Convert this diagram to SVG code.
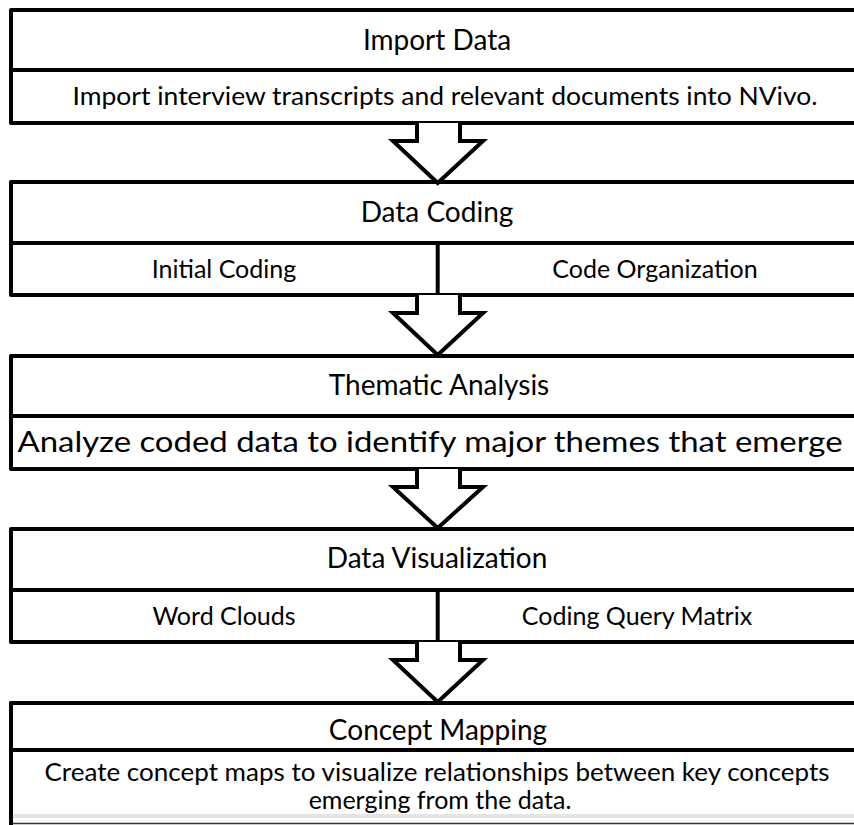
<svg xmlns="http://www.w3.org/2000/svg" width="854" height="825" viewBox="0 0 854 825">
<style>
.box{fill:#fff;stroke:#000;stroke-width:4;stroke-linejoin:round}
.ln{stroke:#000;stroke-width:4;fill:none;stroke-linecap:round}
.ar{fill:#fff;stroke:#000;stroke-width:4;stroke-linejoin:miter}
text{font-family:Lato,"Open Sans",sans-serif;fill:#000;text-anchor:middle}
.t{font-size:28px}
.d{font-size:25px}
</style>
<rect width="854" height="825" fill="#fff"/>
<g id="import-data">
<rect class="box" x="11" y="10" width="880" height="113"/>
<line class="ln" x1="11" y1="70" x2="891" y2="70"/>
<text class="t" x="437" y="50">Import Data</text>
<text class="d" x="445" y="105" textLength="745" lengthAdjust="spacingAndGlyphs">Import interview transcripts and relevant documents into NVivo.</text>
</g>
<g id="data-coding">
<rect class="box" x="11" y="182" width="880" height="113"/>
<line class="ln" x1="11" y1="243" x2="891" y2="243"/>
<line class="ln" x1="437.7" y1="243" x2="437.7" y2="295"/>
<text class="t" x="437" y="222">Data Coding</text>
<text class="d" x="224" y="278">Initial Coding</text>
<text class="d" x="655" y="278">Code Organization</text>
</g>
<g id="thematic-analysis">
<rect class="box" x="11" y="356" width="880" height="113"/>
<line class="ln" x1="11" y1="416" x2="891" y2="416"/>
<text class="t" x="439" y="395">Thematic Analysis</text>
<text class="d" x="430" y="452" style="font-size:28px" textLength="825" lengthAdjust="spacingAndGlyphs">Analyze coded data to identify major themes that emerge</text>
</g>
<g id="data-visualization">
<rect class="box" x="11" y="529" width="880" height="113"/>
<line class="ln" x1="11" y1="590" x2="891" y2="590"/>
<line class="ln" x1="437.7" y1="590" x2="437.7" y2="642"/>
<text class="t" x="437" y="568">Data Visualization</text>
<text class="d" x="224" y="625">Word Clouds</text>
<text class="d" x="637" y="625">Coding Query Matrix</text>
</g>
<g id="concept-mapping">
<rect x="11" y="703" width="880" height="200" fill="#fff"/>
<line class="ln" x1="11" y1="703" x2="891" y2="703"/>
<line class="ln" x1="11" y1="703" x2="11" y2="830"/>
<line class="ln" x1="11" y1="750" x2="891" y2="750"/>
<rect x="13" y="814" width="841" height="4" fill="#e4e4e4"/>
<line x1="13" y1="823.5" x2="854" y2="823.5" stroke="#333" stroke-width="1.5"/>
<text class="t" x="438" y="740">Concept Mapping</text>
<text class="d" x="437" y="781" textLength="785" lengthAdjust="spacingAndGlyphs">Create concept maps to visualize relationships between key concepts</text>
<text class="d" x="440" y="809">emerging from the data.</text>
</g>
<g id="connectors">
<path class="ar" d="M417,123 V141 H393 L437.7,183 L483,141 H460 V123"/>
<path class="ar" d="M417,295 V313 H393 L437.7,355 L483,313 H460 V295"/>
<path class="ar" d="M417,469 V487 H393 L437.7,528 L483,487 H460 V469"/>
<path class="ar" d="M417,642 V660 H393 L437.7,702 L483,660 H460 V642"/>
</g>
</svg>
